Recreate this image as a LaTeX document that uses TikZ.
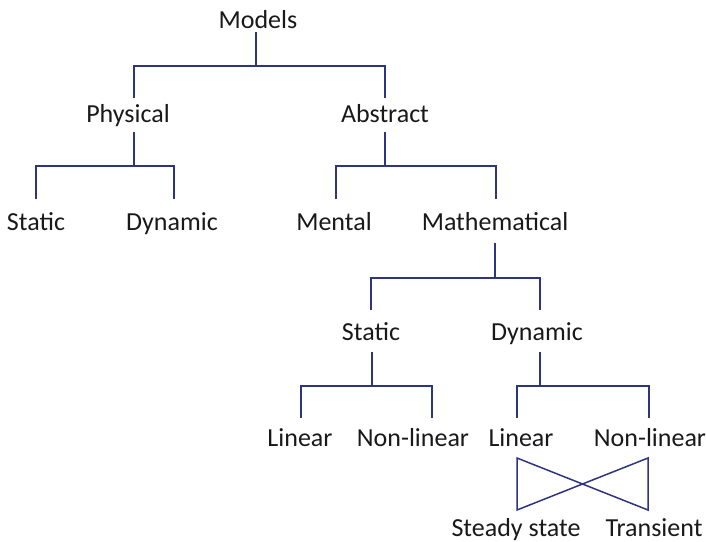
\documentclass[tikz,border=0pt]{standalone}
\usepackage{fontspec}
\setmainfont{Carlito}
\definecolor{navy}{RGB}{45,52,128}
\begin{document}
\begin{tikzpicture}[x=1pt,y=-1pt,
  lbl/.style={anchor=base,inner sep=0pt,font=\fontsize{26}{30}\selectfont,text=black!90},
  conn/.style={draw=navy,line width=1.5pt}]
\useasboundingbox (0,0) rectangle (706,541);
% text nodes
\node[lbl] (models) at (258,28) {Models};
\node[lbl] (physical) at (128,122) {Physical};
\node[lbl] (abstract) at (385,122) {Abstract};
\node[lbl] (pstatic) at (36,230) {Static};
\node[lbl] (pdynamic) at (172,230) {Dynamic};
\node[lbl] (mental) at (334,230) {Mental};
\node[lbl] (math) at (495,230) {Mathematical};
\node[lbl] (mstatic) at (371,340) {Static};
\node[lbl] (mdynamic) at (537,340) {Dynamic};
\node[lbl] (slinear) at (300,446) {Linear};
\node[lbl] (snonlinear) at (413,446) {Non-linear};
\node[lbl] (dlinear) at (521,446) {Linear};
\node[lbl] (dnonlinear) at (650,446) {Non-linear};
\node[lbl] (steady) at (516,536) {Steady state};
\node[lbl] (transient) at (654,536) {Transient};
% connector end points
\coordinate (m0) at (256,32);   \coordinate (m1) at (256,66);
\coordinate (pa) at (134,98);   \coordinate (aa) at (385,98);
\coordinate (p0) at (134,132);  \coordinate (p1) at (134,166);
\coordinate (psa) at (36,199);  \coordinate (pda) at (174,199);
\coordinate (a0) at (385,132);  \coordinate (a1) at (385,166);
\coordinate (mea) at (336,199); \coordinate (maa) at (496,199);
\coordinate (ma0) at (495,243); \coordinate (ma1) at (495,278);
\coordinate (msa) at (371,310); \coordinate (mda) at (540,310);
\coordinate (s0) at (372,352);  \coordinate (s1) at (372,386);
\coordinate (sla) at (301,418); \coordinate (sna) at (432,418);
\coordinate (d0) at (540,352);  \coordinate (d1) at (540,386);
\coordinate (dla) at (517,418); \coordinate (dna) at (649,418);
\coordinate (bt1) at (517,458); \coordinate (bb1) at (517,510);
\coordinate (bt2) at (648,458); \coordinate (bb2) at (648,510);
% connectors
\draw[conn] (m0) -- (m1);
\draw[conn] (pa) |- (m1) -| (aa);
\draw[conn] (p0) -- (p1);
\draw[conn] (psa) |- (p1) -| (pda);
\draw[conn] (a0) -- (a1);
\draw[conn] (mea) |- (a1) -| (maa);
\draw[conn] (ma0) -- (ma1);
\draw[conn] (msa) |- (ma1) -| (mda);
\draw[conn] (s0) -- (s1);
\draw[conn] (sla) |- (s1) -| (sna);
\draw[conn] (d0) -- (d1);
\draw[conn] (dla) |- (d1) -| (dna);
\draw[conn,line join=miter] (bt1) -- (bb1) -- (bt2) -- (bb2) -- cycle;
\end{tikzpicture}
\end{document}
